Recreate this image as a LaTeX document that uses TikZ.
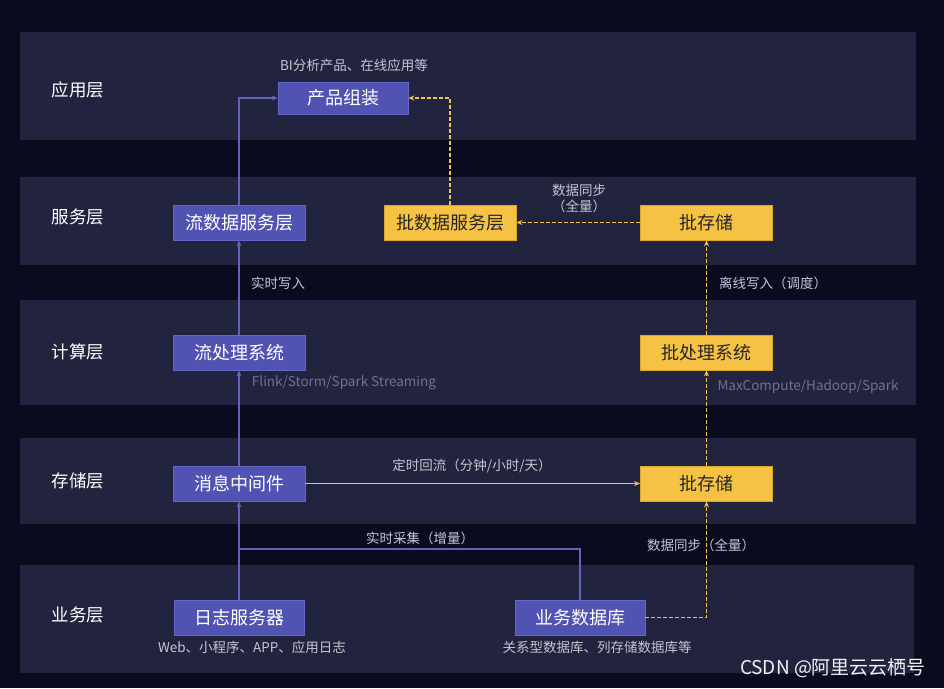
\documentclass[tikz,border=0pt]{standalone}
\usepackage{fontspec}
\setmainfont{Noto Sans CJK SC}
\usetikzlibrary{arrows.meta}
\definecolor{bgc}{HTML}{0B0B20}
\definecolor{bandc}{HTML}{22243F}
\definecolor{bluec}{HTML}{5153B3}
\definecolor{blueb}{HTML}{6466C8}
\definecolor{yelc}{HTML}{F5C243}
\definecolor{yelb}{HTML}{D8A52E}
\definecolor{notec}{HTML}{C4C6D2}
\definecolor{dimc}{HTML}{6E7290}
\tikzset{
  band/.style={fill=bandc, draw=none},
  bluebox/.style={fill=bluec, draw=blueb, line width=0.8pt, minimum width=132pt, minimum height=35pt, inner sep=0pt, text=white, font=\fontsize{18}{20}\selectfont},
  yelbox/.style={fill=yelc, draw=yelb, line width=0.8pt, minimum width=132pt, minimum height=35pt, inner sep=0pt, text=black!85, font=\fontsize{18}{20}\selectfont},
  layerlbl/.style={text=white, font=\fontsize{17.5}{19}\selectfont},
  note/.style={text=notec, font=\fontsize{13.5}{15.5}\selectfont, inner sep=1pt},
  dimnote/.style={text=dimc, font=\fontsize{13.5}{15.5}\selectfont, inner sep=1pt},
  tip/.style={-{Stealth[length=6pt,width=5pt]}},
  blueline/.style={draw=bluec!90!white, line width=1.6pt, tip},
  blueplain/.style={draw=bluec!90!white, line width=1.6pt},
  ysolid/.style={draw=yelc, line width=1.6pt, tip},
  ydash/.style={draw=yelc, line width=1.6pt, dash pattern=on 4pt off 2pt, tip}
}
\begin{document}
\begin{tikzpicture}[x=1pt,y=-1pt]
\useasboundingbox (0,0) rectangle (944,688);
\fill[bgc] (0,0) rectangle (944,688);
% bands
\fill[band] (20,32) rectangle (916,140);
\fill[band] (20,177) rectangle (916,265);
\fill[band] (20,300) rectangle (916,405);
\fill[band] (20,438) rectangle (916,524);
\fill[band] (20,565) rectangle (914,673);
% layer labels
\node[layerlbl] (L1) at (78,90) {应用层};
\node[layerlbl] (L2) at (78,217) {服务层};
\node[layerlbl] (L3) at (78,352) {计算层};
\node[layerlbl] (L4) at (78,481) {存储层};
\node[layerlbl] (L5) at (78,615) {业务层};
% boxes
\node[bluebox, minimum width=130pt, minimum height=32pt] (prod) at (343,98) {产品组装};
\node[bluebox] (sstream) at (239,222.5) {流数据服务层};
\node[yelbox] (sbatch) at (450,222.5) {批数据服务层};
\node[yelbox] (bstore1) at (706.5,222.5) {批存储};
\node[bluebox] (cstream) at (239,352.5) {流处理系统};
\node[yelbox] (cbatch) at (706.5,352.5) {批处理系统};
\node[bluebox] (mq) at (239,483.5) {消息中间件};
\node[yelbox] (bstore2) at (706.5,483.5) {批存储};
\node[bluebox, minimum width=130pt] (log) at (239,617.5) {日志服务器};
\node[bluebox, minimum width=130pt] (db) at (580,617.5) {业务数据库};
% notes
\node[note] (n1) at (354,65) {BI分析产品、在线应用等};
\node[note] (n2) at (579,200) {\begin{tabular}{@{}c@{}}数据同步\\（全量）\end{tabular}};
\node[note] (n3) at (278,283) {实时写入};
\node[note] (n4) at (773,283) {离线写入（调度）};
\node[dimnote] (n5) at (344,383) {Flink/Storm/Spark Streaming};
\node[dimnote] (n6) at (808,387) {MaxCompute/Hadoop/Spark};
\node[note] (n7) at (472,466) {定时回流（分钟/小时/天）};
\node[note] (n8) at (420,538) {实时采集（增量）};
\node[note] (n9) at (701,545) {数据同步（全量）};
\node[note] (n10) at (252,647) {Web、小程序、APP、应用日志};
\node[note] (n11) at (597,647) {关系型数据库、列存储数据库等};
\node[text=white!90!gray, font=\fontsize{19}{21}\selectfont] (wm) at (833,668) {CSDN @阿里云云栖号};
% connectors
\coordinate (j) at (239,549);
\draw[blueline] (log) -- (mq);
\draw[blueline] (mq) -- (cstream);
\draw[blueline] (cstream) -- (sstream);
\draw[blueline] (sstream.north) |- (prod.west);
\draw[blueplain] (db.north) |- (j);
\draw[ysolid] (mq) -- (bstore2);
\draw[ydash] (db.east) -| (bstore2.south);
\draw[ydash] (bstore2) -- (cbatch);
\draw[ydash] (cbatch) -- (bstore1);
\draw[ydash] (bstore1) -- (sbatch);
\draw[ydash] (sbatch.north) |- (prod.east);
\end{tikzpicture}
\end{document}
